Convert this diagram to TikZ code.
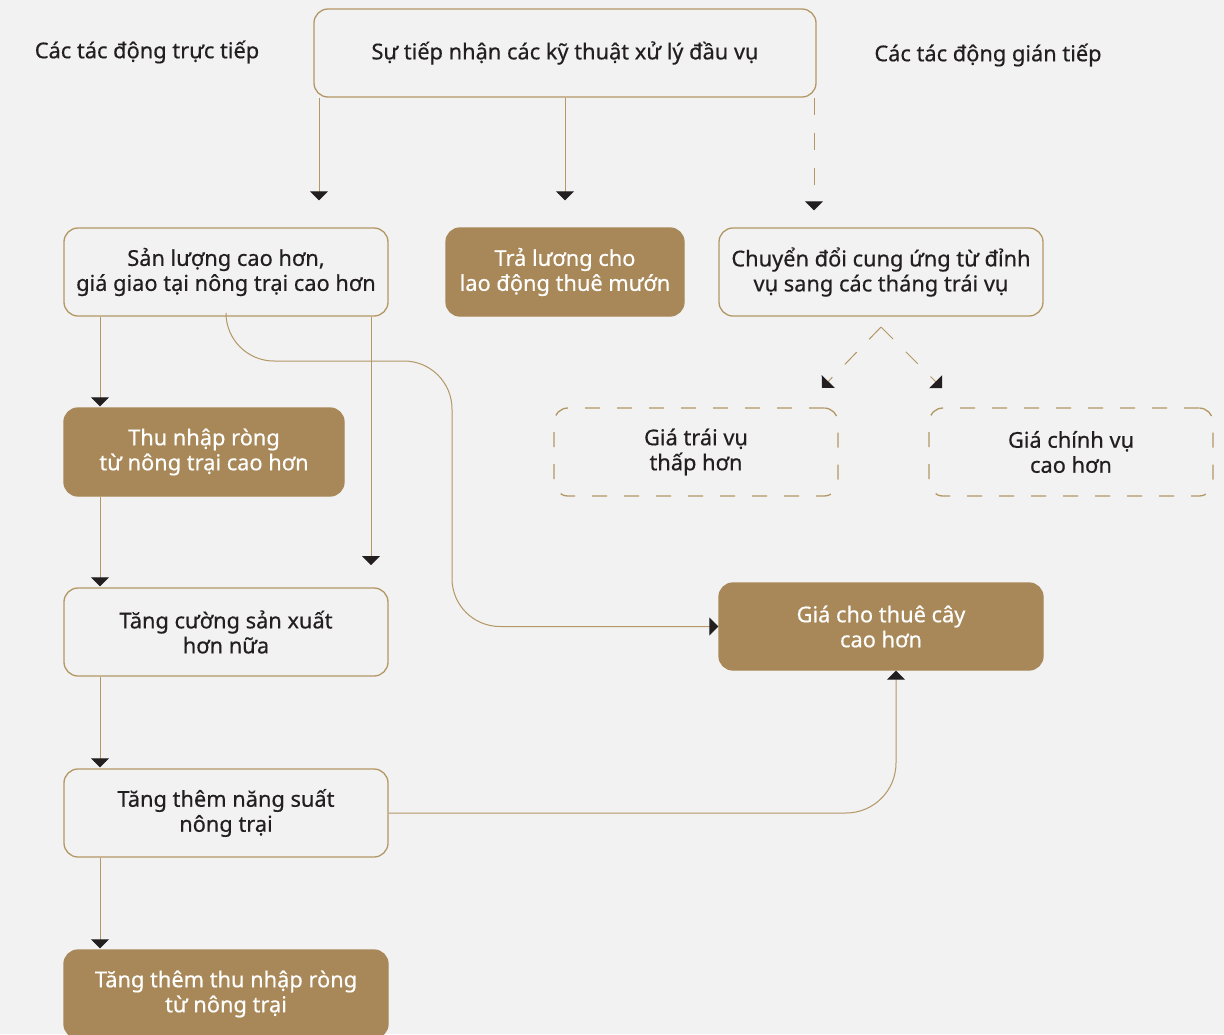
\documentclass[tikz,border=0pt]{standalone}
\usepackage{fontspec}
\setmainfont{Noto Sans}[FakeBold=0.5]
\usetikzlibrary{arrows.meta}

\definecolor{bgcol}{HTML}{F2F2F2}
\definecolor{goldfill}{HTML}{A88858}
\definecolor{goldline}{HTML}{B39765}
\definecolor{inkcol}{HTML}{231F20}

\begin{document}
\begin{tikzpicture}[
x=1pt, y=-1pt,
txt/.style={font=\fontsize{21.8}{25}\selectfont, text=inkcol, align=center},
box/.style={txt, draw=goldline, line width=1.3pt, rounded corners=14pt, minimum width=324pt, minimum height=88pt, inner sep=0pt},
fbox/.style={box, fill=goldfill, draw=goldfill, text=white},
dbox/.style={box, dash pattern=on 15pt off 17pt},
arrow/.style={draw=goldline, line width=1pt, -{Triangle[width=18pt,length=9pt,color=inkcol]}},
darrow/.style={arrow, dash pattern=on 17pt off 18pt} ]

\useasboundingbox (0,0) rectangle (1224,1034);
\fill[bgcol] (0,0) rectangle (1224,1034);
\clip (0,0) rectangle (1224,1034);

\node[txt](direct) at (147,52) {Các tác động trực tiếp};

\node[txt](indirect) at (988,55) {Các tác động gián tiếp};

\node[box, minimum width=502pt](adopt) at (565,53) {Sự tiếp nhận các kỹ thuật xử lý đầu vụ};

\node[box](yield) at (226,272) {Sản lượng cao hơn,\\giá giao tại nông trại cao hơn};

\node[fbox, minimum width=238pt](wage) at (565,272) {Trả lương cho\\lao động thuê mướn};

\node[box](shift) at (881,272) {Chuyển đổi cung ứng từ đỉnh\\vụ sang các tháng trái vụ};

\node[dbox, minimum width=284pt](offprice) at (696,452) {Giá trái vụ\\thấp hơn};

\node[dbox, minimum width=284pt](peakprice) at (1071,452) {Giá chính vụ\\cao hơn};

\node[fbox, minimum width=280pt](income) at (204,452) {Thu nhập ròng\\từ nông trại cao hơn};

\node[box](intens) at (226,632) {Tăng cường sản xuất\\hơn nữa};

\node[fbox, minimum height=87pt](rent) at (881,626.5) {Giá cho thuê cây\\cao hơn};

\node[box](produc) at (226,813) {Tăng thêm năng suất\\nông trại};

\node[fbox](moreinc) at (226,994) {Tăng thêm thu nhập ròng\\từ nông trại};

\coordinate (looseend) at (371,565);
\coordinate (fork) at (881,327);
\coordinate (tooff) at (822,388);
\coordinate (topeak) at (942,388);

\draw[arrow, shorten >=27pt] (adopt.south -| 319,0) -- (yield.north -| 319,0);

\draw[arrow, shorten >=27pt] (adopt.south) -- (wage.north);

\draw[darrow, shorten >=17pt] (adopt.south -| 814,0) -- (shift.north -| 814,0);

\draw[darrow] (fork) -- (tooff);

\draw[darrow] (fork) -- (topeak);

\draw[arrow, shorten >=1pt] (yield.south -| 100,0) -- (income.north -| 100,0);

\draw[arrow] (yield.south -| looseend) -- (looseend);

\draw[arrow, rounded corners=48pt] (yield.south) |- (452,361) |- (rent.west);

\draw[arrow, shorten >=1pt] (income.south -| 100,0) -- (intens.north -| 100,0);

\draw[arrow, shorten >=1pt] (intens.south -| 100,0) -- (produc.north -| 100,0);

\draw[arrow, shorten >=1pt] (produc.south -| 100,0) -- (moreinc.north -| 100,0);

\draw[arrow, rounded corners=50pt] (produc.east) -| (rent.south -| 896,0);

\end{tikzpicture}
\end{document}
